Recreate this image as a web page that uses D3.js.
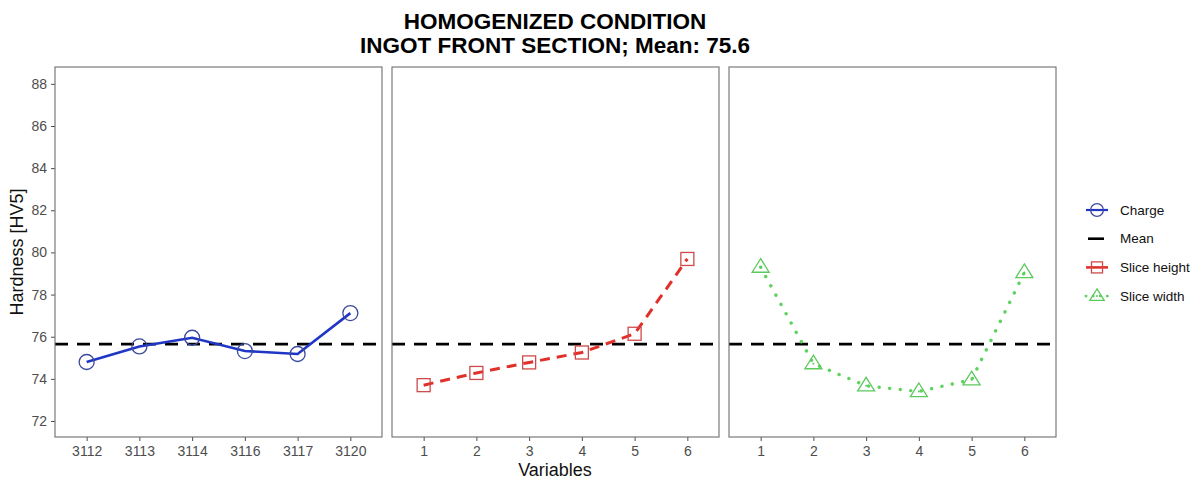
<!DOCTYPE html>
<html>
<head>
<meta charset="utf-8">
<script src="https://cdn.jsdelivr.net/npm/d3@7"></script>
<style>
  body { margin: 0; background: #fff; }
  svg { font-family: "Liberation Sans", Arial, sans-serif; }
  .tick text { fill: #4d4d4d; font-size: 14px; }
  .tick line { stroke: #4d4d4d; }
</style>
</head>
<body>
<div id="chart"></div>
<script>
const chargeCats = ["3112", "3113", "3114", "3116", "3117", "3120"];
const chargeVals = [74.8, 75.54, 75.95, 75.32, 75.18, 77.12];
const sliceCats = ["1", "2", "3", "4", "5", "6"];
const heightVals = [73.7, 74.28, 74.78, 75.25, 76.14, 79.69];
const widthVals = [79.3, 74.72, 73.67, 73.4, 73.96, 79.05];
const meanValue = 75.65;
const yTicks = [72, 74, 76, 78, 80, 82, 84, 86, 88];
const legendLabels = ["Charge", "Mean", "Slice height", "Slice width"];

const width = 1204;
const height = 480;
const margin = { top: 67, bottom: 437 };
const panels = [
  { left: 55, right: 382, cats: chargeCats, vals: chargeVals, key: "charge" },
  { left: 392, right: 719, cats: sliceCats, vals: heightVals, key: "height" },
  { left: 729, right: 1056, cats: sliceCats, vals: widthVals, key: "width" },
];

const styles = {
  charge: { color: "#2036c4", mark: "#3b4a9e", dash: null, width: 2.6 },
  height: { color: "#e0302a", mark: "#cf4a4a", dash: "10,7", width: 3 },
  width: { color: "#5fd35f", mark: "#5cc95c", dash: "0.1,10.5", width: 3.4 },
};

const svg = d3
  .select("#chart")
  .append("svg")
  .attr("width", width)
  .attr("height", height);

const y = d3.scaleLinear().domain([71.24, 88.8]).range([margin.bottom, margin.top]);

function drawShape(g, key, cx, cy, color, k = 1) {
  if (key === "charge") {
    g.append("circle").attr("cx", cx).attr("cy", cy).attr("r", 7.5 * k)
      .attr("fill", "none").attr("stroke", color).attr("stroke-width", 1.3);
  } else if (key === "height") {
    const h = 6.5 * k;
    g.append("rect").attr("x", cx - h).attr("y", cy - h)
      .attr("width", 2 * h).attr("height", 2 * h)
      .attr("fill", "none").attr("stroke", color).attr("stroke-width", 1.3);
  } else {
    const s = 8.5 * k;
    g.append("path")
      .attr("d", `M${cx},${cy - s}L${cx + s},${cy + s * 0.6}L${cx - s},${cy + s * 0.6}Z`)
      .attr("fill", "none").attr("stroke", color).attr("stroke-width", 1.3);
    g.append("circle").attr("cx", cx).attr("cy", cy).attr("r", 1).attr("fill", color);
  }
}

panels.forEach((p) => {
  const x = d3.scalePoint().domain(p.cats).range([p.left, p.right]).padding(0.6);
  const st = styles[p.key];
  const g = svg.append("g");

  g.append("g")
    .attr("transform", `translate(0,${margin.bottom})`)
    .call(d3.axisBottom(x).tickSize(4).tickPadding(5))
    .call((a) => a.select(".domain").remove());

  if (p.key === "charge") {
    g.append("g")
      .attr("transform", `translate(${p.left},0)`)
      .call(d3.axisLeft(y).tickValues(yTicks).tickSize(4).tickPadding(4))
      .call((a) => a.select(".domain").remove());
  }

  // mean line
  g.append("line")
    .attr("x1", p.left).attr("x2", p.right)
    .attr("y1", y(meanValue)).attr("y2", y(meanValue))
    .attr("stroke", "#000").attr("stroke-width", 2.6)
    .attr("stroke-dasharray", "13,9");

  const line = d3.line().x((d, i) => x(p.cats[i])).y((d) => y(d));
  g.append("path")
    .datum(p.vals)
    .attr("d", line)
    .attr("fill", "none")
    .attr("stroke", st.color)
    .attr("stroke-width", st.width)
    .attr("stroke-linecap", p.key === "width" ? "round" : "butt")
    .attr("stroke-dasharray", st.dash);

  const marks = g.append("g");
  p.vals.forEach((v, i) => drawShape(marks, p.key, x(p.cats[i]), y(v), st.mark));

  g.append("rect")
    .attr("x", p.left).attr("y", margin.top)
    .attr("width", p.right - p.left).attr("height", margin.bottom - margin.top)
    .attr("fill", "none").attr("stroke", "#6e6e6e").attr("stroke-width", 1.1);
});

// titles
svg.append("text").attr("x", 555).attr("y", 29).attr("text-anchor", "middle")
  .attr("font-size", 22.5).attr("font-weight", "bold").text("HOMOGENIZED CONDITION");
svg.append("text").attr("x", 555).attr("y", 53).attr("text-anchor", "middle")
  .attr("font-size", 22.5).attr("font-weight", "bold").text("INGOT FRONT SECTION; Mean: 75.6");

svg.append("text")
  .attr("transform", `translate(23,${(margin.top + margin.bottom) / 2}) rotate(-90)`)
  .attr("text-anchor", "middle").attr("font-size", 18).attr("fill", "#111")
  .text("Hardness [HV5]");
svg.append("text").attr("x", 555).attr("y", 476).attr("text-anchor", "middle")
  .attr("font-size", 18).attr("fill", "#111").text("Variables");

// legend
const legendKeys = ["charge", "mean", "height", "width"];
const legend = svg.append("g").attr("transform", "translate(1086,210)");
legendKeys.forEach((k, i) => {
  const row = legend.append("g").attr("transform", `translate(0,${i * 28.7})`);
  if (k === "mean") {
    row.append("line").attr("x1", 2).attr("x2", 18).attr("y1", 0).attr("y2", 0)
      .attr("stroke", "#000").attr("stroke-width", 2.6);
  } else {
    const st = styles[k];
    row.append("line").attr("x1", 0).attr("x2", 22).attr("y1", 0).attr("y2", 0)
      .attr("stroke", st.color).attr("stroke-width", st.width * 0.85)
      .attr("stroke-linecap", k === "width" ? "round" : "butt")
      .attr("stroke-dasharray", k === "width" ? "0.1,7" : null);
    drawShape(row, k, 11, 0, st.mark, 0.85);
  }
  row.append("text").attr("x", 34).attr("y", 0).attr("dy", "0.35em")
    .attr("font-size", 13.5).attr("fill", "#111").text(legendLabels[i]);
});
</script>
</body>
</html>
